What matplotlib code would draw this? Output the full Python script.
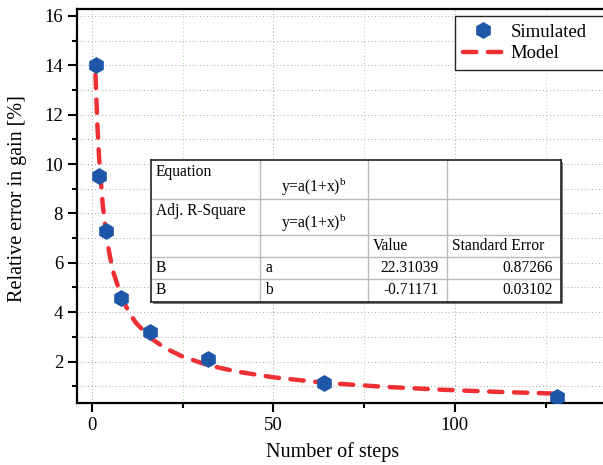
import matplotlib
matplotlib.use("Agg")
import matplotlib.pyplot as plt
from matplotlib.ticker import MultipleLocator
from matplotlib.patches import Rectangle

plt.rcParams['font.family'] = ['Liberation Serif', 'DejaVu Serif']
plt.rcParams['mathtext.fontset'] = 'custom'
plt.rcParams['mathtext.rm'] = 'Liberation Serif'

# simulated points
steps = [1, 2, 4, 8, 16, 32, 64, 128]
rel_err = [14.0, 9.53, 7.29, 4.59, 3.2, 2.1, 1.13, 0.58]

# model curve
model_x = [1, 1.5, 2, 3, 4, 5, 6, 8, 10, 12, 16, 20, 25, 32, 40, 50, 64, 80, 96, 112, 128]
model_y = [13.62, 11.62, 10.21, 8.32, 7.10, 6.23, 5.58, 4.67, 4.05, 3.59, 2.97, 2.56,
           2.20, 1.85, 1.59, 1.36, 1.14, 0.98, 0.86, 0.77, 0.70]

# fit table contents
table_rows = [
    ["Equation", "y=a(1+x)$^\\mathrm{b}$", "", ""],
    ["Adj. R-Square", "y=a(1+x)$^\\mathrm{b}$", "", ""],
    ["", "", "Value", "Standard Error"],
    ["B", "a", "22.31039", "0.87266"],
    ["B", "b", "-0.71171", "0.03102"],
]

W, H = 603, 465
fig = plt.figure(figsize=(W / 100, H / 100), dpi=100)
# axes runs off the right side of the picture, like the reference
ax_l, ax_r, ax_t, ax_b = 77, 630, 9, 403
ax = fig.add_axes([ax_l / W, 1 - ax_b / H, (ax_r - ax_l) / W, (ax_b - ax_t) / H])

ax.plot(model_x, model_y, color='#EE3035', lw=3.2, dashes=(3.0, 2.6),
        dash_capstyle='round', label='Model', zorder=3)
ax.plot(steps, rel_err, ls='none', marker='h', ms=11, color='#1E56A8',
        label='Simulated', zorder=4)

ax.set_xlim(-4.1, (ax_r - 92) / 3.63)
ax.set_ylim(0.32, 16.28)
ax.xaxis.set_major_locator(MultipleLocator(50))
ax.xaxis.set_minor_locator(MultipleLocator(25))
ax.yaxis.set_major_locator(MultipleLocator(2))
ax.yaxis.set_minor_locator(MultipleLocator(1))
ax.set_yticks([2, 4, 6, 8, 10, 12, 14, 16])

grid_ls = (0, (1, 2.6))
ax.grid(which='major', color='#a8a8a8', ls=grid_ls, lw=0.7)
ax.yaxis.grid(which='minor', color='#a8a8a8', ls=grid_ls, lw=0.7)
ax.xaxis.grid(which='minor', color='#a6dc98', ls=grid_ls, lw=0.7)
ax.set_axisbelow(True)

for s in ax.spines.values():
    s.set_linewidth(1.6)
ax.tick_params(which='major', direction='out', length=6.5, width=1.5, labelsize=13.5,
               top=False, right=False)
ax.tick_params(which='minor', direction='out', length=3.8, width=1.5, top=False, right=False)

ax.set_xlabel("Number of steps", fontsize=14.5)
ax.set_ylabel("Relative error in gain [%]", fontsize=14.5)
ax.xaxis.set_label_coords((333 - ax_l) / (ax_r - ax_l), -0.1)
ax.yaxis.set_label_coords(-0.09, 0.52)

# legend box runs off the right edge, as in the reference
handles, labels = ax.get_legend_handles_labels()
leg = ax.legend(handles[::-1], labels[::-1], loc='upper left', mode='expand',
                bbox_to_anchor=(455 / W, 1 - 70 / H, 175 / W, 54 / H),
                bbox_transform=fig.transFigure,
                borderaxespad=0, fancybox=False, edgecolor='#222222', framealpha=1,
                fontsize=13.5, numpoints=1, handlelength=2.2, handletextpad=0.35,
                borderpad=0.4, labelspacing=0.25)
leg.get_frame().set_linewidth(1.0)

# fit table, drawn in its own axes (pixel units inside)
tl, tt, tr, tb = 151, 160, 561, 302
fig.patches.append(Rectangle(((tl + 2) / W, 1 - (tb + 2) / H), (tr - tl) / W, (tb - tt) / H,
                             transform=fig.transFigure, facecolor='#777777',
                             edgecolor='none', zorder=5))
tax = fig.add_axes([tl / W, 1 - tb / H, (tr - tl) / W, (tb - tt) / H], zorder=6)
tax.set_xlim(0, tr - tl)
tax.set_ylim(tb - tt, 0)
tax.set_xticks([])
tax.set_yticks([])
tax.set_facecolor('white')
for s in tax.spines.values():
    s.set_linewidth(1.2)
    s.set_color('#222222')

col_edges = [0, 109, 217, 296, 410]
row_edges = [0, 39, 75, 97, 119, 142]
for c in col_edges[1:-1]:
    tax.axvline(c, color='#bbbbbb', lw=1.0)
for r in row_edges[1:-1]:
    tax.axhline(r, color='#bbbbbb', lw=1.0)

fs = 11.2
for i, row in enumerate(table_rows):
    y0, y1 = row_edges[i], row_edges[i + 1]
    for j, cell in enumerate(row):
        if not cell:
            continue
        x0, x1 = col_edges[j], col_edges[j + 1]
        if i < 2 and j == 0:
            tax.text(x0 + 5, y0 + 4, cell, fontsize=fs, va='top', ha='left')
        elif i < 2 and j == 1:
            tax.text((x0 + x1) / 2, y1 - 7, cell, fontsize=fs, va='baseline', ha='center')
        elif i >= 3 and j >= 2:
            tax.text(x1 - 8, (y0 + y1) / 2, cell, fontsize=fs, va='center', ha='right')
        else:
            tax.text(x0 + 5, (y0 + y1) / 2, cell, fontsize=fs, va='center', ha='left')

fig.savefig("out.png", dpi=100)
